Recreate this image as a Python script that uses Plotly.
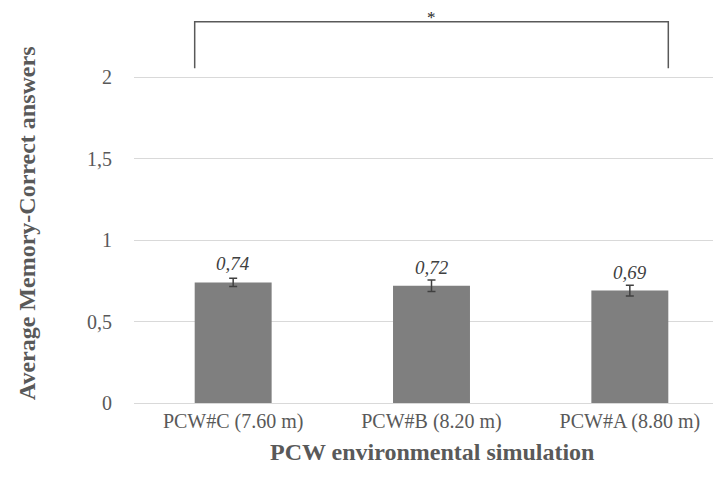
import plotly.graph_objects as go

categories = ["PCW#C (7.60 m)", "PCW#B (8.20 m)", "PCW#A (8.80 m)"]
values = [0.74, 0.72, 0.69]
errors = [0.025, 0.035, 0.033]
value_labels = ["0,74", "0,72", "0,69"]
y_ticks = [0, 0.5, 1, 1.5, 2]
y_tick_labels = ["0", "0,5", "1", "1,5", "2"]

FONT = "Liberation Serif, Times New Roman, serif"
GRAY = "#595959"

fig = go.Figure()
fig.add_trace(go.Bar(
    x=list(range(len(categories))), y=values, width=0.388,
    marker=dict(color="#7f7f7f", line=dict(width=0)),
    error_y=dict(type="data", array=errors, visible=True,
                 color="#404040", thickness=1.5, width=4),
    hoverinfo="skip",
))

for i, (v, lab) in enumerate(zip(values, value_labels)):
    fig.add_annotation(x=i, y=v, text="<i>" + lab + "</i>", showarrow=False,
                       yanchor="bottom", yshift=6,
                       font=dict(family=FONT, size=19, color="#404040"))

# significance bracket
bw = 0.388 / 2
fig.add_shape(type="path",
              path=f"M {0-bw},2.055 L {0-bw},2.34 L {2+bw},2.34 L {2+bw},2.055",
              xref="x", yref="y", line=dict(color="#595959", width=1.5))
fig.add_annotation(x=1, y=2.34, text="*", showarrow=False, yanchor="bottom", yshift=-7,
                   font=dict(family=FONT, size=17, color="#262626"))

# axis titles
fig.add_annotation(x=1, y=0, xref="x", yref="paper", yshift=-49,
                   text="<b>PCW environmental simulation</b>",
                   showarrow=False, yanchor="middle", xanchor="center",
                   font=dict(family=FONT, size=24, color=GRAY))
fig.add_annotation(x=0, y=0.46, xref="paper", yref="paper", xshift=-107,
                   text="<b>Average Memory-Correct answers</b>", textangle=-90,
                   showarrow=False, yanchor="middle", xanchor="center",
                   font=dict(family=FONT, size=24, color=GRAY))

fig.update_layout(
    width=721, height=486,
    margin=dict(l=126, r=0, t=4, b=91),
    paper_bgcolor="white", plot_bgcolor="white",
    showlegend=False,
    separators=",.",
    font=dict(family=FONT, size=20, color=GRAY),
    xaxis=dict(
        range=[-0.5, 2.5], tickmode="array",
        tickvals=list(range(len(categories))), ticktext=categories,
        showgrid=False, zeroline=False, showline=True, linecolor="#d9d9d9", linewidth=1,
        ticks="", tickfont=dict(family=FONT, size=20, color=GRAY),
    ),
    yaxis=dict(
        range=[0, 2.4], tickmode="array", tickvals=y_ticks, ticktext=y_tick_labels,
        showgrid=True, gridcolor="#d9d9d9", gridwidth=1, zeroline=False,
        showline=False, ticks="", ticklabelstandoff=21,
        tickfont=dict(family=FONT, size=20, color=GRAY),
    ),
)

fig.write_html("out.html")
